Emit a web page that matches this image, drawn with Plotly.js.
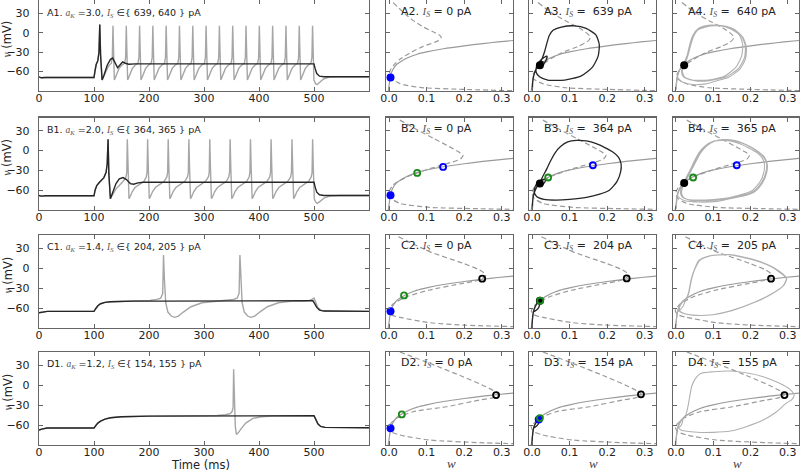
<!DOCTYPE html>
<html><head><meta charset="utf-8">
<script src="https://cdn.plot.ly/plotly-3.0.1.min.js"></script>
<style>body{margin:0;background:#fff}#chart{width:800px;height:471px}</style>
</head><body><div id="chart"></div>
<script>
// ================= DATA =================
const rowLetters = ['A','B','C','D'];
const aK = ['3.0','2.0','1.4','1.2'];
const IsPairs = [[639,640],[364,365],[204,205],[154,155]];

const tTicks = [0,100,200,300,400,500];
const vTicks = [30,0,-30,-60];
const wTicks = [0,0.1,0.2,0.3];
const wTickText = ['0.0','0.1','0.2','0.3'];

// ---- Time traces (t in ms, v in mV) ----
const A1_t = [0,4,12,100,102,104,107,109,110.5,112,114.7,118,124,130,134,138,143,148,152,157,163,175,500,502,505,510,518,600];
const A1_v = [-68,-69.5,-69,-69,-58,-49,-43,-30,13,-35,-73,-66,-50,-41,-39,-45,-54,-49,-45,-47,-48.5,-48,-48,-55,-63,-67,-68,-68];
const A1g_pre_t = [0,4,12,100,102,104,107,109,110.5,112,114.7,118,122,126,130];
const A1g_pre_v = [-68,-69.5,-69,-69,-58,-49,-43,-30,13,-35,-73,-66,-58,-52,-48];
const A1g_spikes = [134.5,158.7,182.9,207,231.2,255.4,279.6,303.8,328,352.2,376.4,400.6,424.8,449,473.2,497.4];
const A_spk_dt = [-3,-1.2,0,1,2.5,4,7,11,16,20];
const A_spk_dv = [-47,-38,11,-25,-73,-70,-62,-55,-50,-47];
const A1g_post_t = [503,506,511,518,528,540,600];
const A1g_post_v = [-79,-80,-76,-71,-68.5,-68,-68];

const B1_t = [0,4,12,100,102,105,110,114,118,122,124,125.6,127,129.8,134,140,146,152.8,159,166,172,180,190,500,502,505,510,518,600];
const B1_v = [-68,-69,-68.5,-68.5,-60,-53,-48,-45,-41,-33,-20,17,-35,-73,-62,-50,-43,-41,-44,-50,-51,-49,-48,-48,-55,-63,-67,-68,-68];
const B1g_pre_t = [0,4,12,100,102,105,110,114,118,122,124,125.6,127,129.8,134,140,146,151];
const B1g_pre_v = [-68,-69,-68.5,-68.5,-60,-53,-48,-45,-41,-33,-20,17,-35,-73,-66,-58,-53,-49];
const B1g_spikes = [160.6,197.5,234.9,272.5,310.5,347.5,384.5,422,460,497.5];
const B_spk_dt = [-6,-2.5,-1,0,1.2,3,5,9,14,20,26,30];
const B_spk_dv = [-45,-40,-33,17,-25,-73,-70,-62,-56,-52,-49,-47];
const B1g_post_t = [503,506,511,518,528,545,600];
const B1g_post_v = [-78,-80,-77,-72,-69,-68,-68];

const C1_t = [0,5,15,30,100,103,107,112,120,130,145,170,220,498,501,505,510,518,600];
const C1_v = [-67,-66,-65,-65,-65,-61,-56.5,-53.5,-51.5,-50.5,-50,-49.5,-49.5,-49,-53,-59,-63,-64.5,-65];
const C1g_pre_t = [0,5,15,30,100,103,107,112,120,130,145,170];
const C1g_pre_v = [-67,-66,-65,-65,-65,-61,-56.5,-53.5,-51.5,-50.5,-50,-49.5];
const C1g_spikes = [226.4,365.3];
const C_spk_dt = [-40,-25,-12,-5,-1.5,0,1.5,4,8,14,20,27,36,50,70,95];
const C_spk_dv = [-49.5,-48.5,-47,-45,-38,20,-15,-52,-66,-72,-74,-72,-66,-58,-52,-49.5];
const C1g_post_t = [480,492,497,500,503,507,512,520,600];
const C1g_post_v = [-49.5,-48.5,-46.5,-45,-51,-59,-63,-64.5,-65];

const D1_t = [0,5,15,100,103,107,112,120,130,150,200,300,500,503,507,512,520,600];
const D1_v = [-67.5,-66,-64.5,-64.5,-61,-57,-54,-51,-49,-47.5,-46.5,-46,-46,-51,-58,-62,-63.5,-64];
const D1g_pre_t = [0,5,15,100,103,107,112,120,130,150,200,300];
const D1g_pre_v = [-67.5,-66,-64.5,-64.5,-61,-57,-54,-51,-49,-47.5,-46.5,-46];
const D1g_spikes = [353.9];
const D_spk_dt = [-50,-30,-15,-7,-3,-1,0,1.2,3,5,8,14,22,35,50,70];
const D_spk_dv = [-46,-45.5,-44.5,-43,-40,-34,24,-20,-62,-74,-72,-65,-57,-50,-47.5,-46.5];
const D1g_post_t = [460,500,503,507,512,520,600];
const D1g_post_v = [-46,-46,-51,-58,-62,-63.5,-64];

// ---- Phase planes (w, v) ----
const wNull_w = [-0.002,0.001,0.004,0.01,0.02,0.035,0.05,0.075,0.1,0.145,0.2,0.25,0.29,0.335];
const wNull_v = [-90,-78,-66,-57,-49,-43,-38.5,-33,-29.5,-24.5,-20,-16.5,-14,-11.5];

const vNullA2_w = [0.011,0.038,0.064,0.091,0.117,0.132,0.139,0.136,0.126,0.091,0.056,0.029,0.011,0.002,0.004,0.029,0.082,0.197,0.335];
const vNullA2_v = [47,32,19.4,9.3,1.8,-2.5,-6.5,-10,-13.5,-20.8,-30.9,-40.8,-50.9,-60,-68,-78.5,-84.5,-87.5,-89.6];
const vNullA34_w = [0.016,0.05,0.095,0.125,0.145,0.155,0.152,0.14,0.122,0.078,0.042,0.015,0.003,0.004,0.03,0.09,0.2,0.335];
const vNullA34_v = [47,32,17,8,0,-6,-11,-16,-21,-31,-43,-54,-64,-71,-79,-85,-87.5,-89.5];
const vNullB_w = [0.029,0.07,0.12,0.16,0.185,0.197,0.19,0.153,0.1,0.047,0.011,0.0,0.005,0.029,0.108,0.236,0.335];
const vNullB_v = [46,33,18,6,-2,-7,-13,-20,-29,-40,-52,-63,-72,-80,-86,-88,-89];
const vNullC_w = [0.025,0.108,0.197,0.241,0.258,0.252,0.235,0.197,0.108,0.047,0.011,-0.002,0.005,0.029,0.108,0.197,0.335];
const vNullC_v = [47.4,24.9,7.4,-2.7,-10,-14,-18.5,-22.7,-32.8,-42.9,-53.9,-64,-70,-74,-82,-85.6,-88];
const vNullD_w = [0.029,0.108,0.197,0.258,0.289,0.29,0.275,0.241,0.153,0.064,0.020,-0.002,0.005,0.029,0.108,0.241,0.335];
const vNullD_v = [50,33,12.8,-2.3,-12,-15,-19,-22.3,-32.4,-39.9,-49.9,-62.5,-70,-75,-82.5,-86.5,-88];

const trajA3_w = [0.001,0.002,0.004,0.008,0.013,0.020,0.028,0.034,0.040,0.046,0.056,0.078,0.113,0.144,0.170,0.179,0.176,0.161,0.130,0.087,0.042,0.020,0.011,0.012,0.020,0.032,0.040,0.036,0.025,0.016,0.018,0.026,0.030,0.025,0.021];
const trajA3_v = [-88,-75,-68,-60,-54,-48,-38,-28,-15,-4,4,9,11,7,-3,-18,-36,-53,-67,-73,-73,-68,-61,-52,-44,-38,-36,-44,-53,-55,-50,-44,-45,-50,-49];
const trajA4_w = [0.001,0.002,0.004,0.008,0.013,0.020, 0.028,0.034,0.040,0.046,0.056,0.078,0.113,0.144,0.170,0.179,0.176,0.161,0.130,0.087,0.042,0.020, 0.015,0.018,0.024, 0.030,0.036,0.045,0.060,0.085,0.12,0.152,0.176,0.186,0.184,0.168,0.135,0.09,0.05,0.024, 0.017,0.020,0.026, 0.032,0.039,0.049,0.065,0.092,0.127,0.158,0.180,0.189,0.186,0.170,0.14,0.11, 0.08,0.045,0.02,0.008,0.004];
const trajA4_v = [-88,-75,-68,-60,-54,-48, -38,-28,-15,-4,4,9,11,7,-3,-18,-36,-53,-67,-73,-73,-68, -60,-52,-45, -35,-20,-4,7,11,11,6,-5,-20,-38,-55,-68,-74,-74,-69, -60,-52,-45, -35,-20,-3,8,12,11,5,-7,-23,-41,-57,-69,-74, -79,-80,-77,-72,-68];

const trajB3_w = [0.001,0.002,0.004,0.008,0.013,0.019,0.028,0.040,0.050,0.062,0.076,0.095,0.118,0.145,0.171,0.195,0.215,0.230,0.237,0.236,0.226,0.206,0.180,0.145,0.100,0.065,0.032,0.013,0.006,0.008,0.016,0.028,0.036,0.034,0.026,0.020,0.021];
const trajB3_v = [-88,-76,-68,-61,-55,-50,-40,-27,-15,-3,6,13,15.4,14.5,10.3,4,-2.3,-10,-20,-32,-47,-60,-66,-71,-74,-75,-74,-70,-63,-55,-48,-44,-43,-48,-52,-50,-49];
const trajB4_w = [0.001,0.002,0.004,0.008,0.013,0.019,
 0.028,0.040,0.050,0.062,0.076,0.095,0.118,0.145,0.171,0.195,0.215,0.230,0.237,0.236,0.226,0.206,0.180,0.145,0.100,0.065,0.032,0.016,
 0.012,0.014,0.020,
 0.030,0.042,0.053,0.065,0.080,0.100,0.125,0.152,0.178,0.200,0.220,0.235,0.243,0.241,0.230,0.210,0.185,0.150,0.105,0.070,0.038,0.020,
 0.015,0.017,0.022,
 0.032,0.044,0.055,0.067,0.083,0.103,0.128,0.155,0.180,0.202,0.222,0.237,0.245,0.243,0.232,0.212,0.187,0.152,
 0.11,0.06,0.025,0.01,0.004];
const trajB4_v = [-88,-76,-68,-61,-55,-50,
 -40,-27,-15,-3,6,13,15.4,14.5,10.3,4,-2.3,-10,-20,-32,-47,-60,-66,-71,-74,-75,-74,-70,
 -64,-57,-50,
 -40,-27,-15,-3,7,14,16,15,11,5,-2,-10,-20,-33,-48,-61,-67,-72,-75,-76,-75,-71,
 -64,-57,-50,
 -40,-27,-15,-3,7,14,16.5,15.5,11,5,-2,-10,-21,-34,-49,-62,-68,-72,
 -77,-78,-76,-72,-68];

const trajC3_w = [0.0,0.001,0.003,0.006,0.011,0.017,0.021,0.021,0.018,0.012,0.005];
const trajC3_v = [-90,-78,-68,-61,-55,-51,-49,-53,-59,-63,-65.5];
const trajC4_w = [0.0,0.001,0.003,0.006,0.011,0.017,0.021,0.026,
 0.030,0.034,0.041,0.050,0.062,0.089,0.142,0.212,0.257,0.283,0.296,0.288,0.257,0.212,0.151,0.098,0.054,0.023,0.010,0.009,0.014,0.020,0.026,
 0.031,0.035,0.042,0.051,0.064,0.091,0.145,0.215,0.259,0.285,0.297,0.289,0.258,0.213,0.152,0.099,0.055,0.024,0.011,0.010,0.015,0.021,0.027,
 0.028,0.024,0.02,0.014,0.008,0.004];
const trajC4_v = [-90,-78,-68,-61,-55,-51,-49,-46.5,
 -43,-36,-16,-1,12,18.4,20.3,11.8,1.8,-8.3,-15.8,-26,-38.4,-50.9,-63.4,-70,-71,-68.5,-64.9,-58,-52,-49,-46.5,
 -43,-36,-16,-1,12,18.6,20.5,12,2,-8,-15.8,-26,-38.5,-51,-63.5,-70,-71,-68.5,-65,-58,-52,-49,-46,
 -44.5,-50,-56,-61,-64,-65.5];

const trajD3_w = [0.0,0.001,0.003,0.006,0.011,0.016,0.019,0.019,0.016,0.010,0.005];
const trajD3_v = [-90,-78,-68,-61,-56,-52,-50,-54,-59,-62.5,-64];
const trajD4_w = [0.0,0.001,0.003,0.006,0.011,0.016,0.019,0.023,
 0.027,0.031,0.036,0.042,0.052,0.066,0.101,0.146,0.195,0.234,0.278,0.305,0.317,0.310,0.295,0.270,0.234,0.190,0.146,0.100,0.057,0.025,0.013,0.006,0.008,0.013,0.018,
 0.018,0.015,0.010,0.005];
const trajD4_v = [-90,-78,-68,-61,-56,-52,-50,-47.5,
 -44,-35,-20,-2,10,17.8,20.3,21.4,18,12.9,2.9,-6,-14.8,-22,-27.3,-40,-52.4,-62,-69,-71,-70.9,-69,-67.5,-62.5,-57,-53,-50,
 -54,-59,-62.5,-64];

// Fixed points
const fpPanel = ['A2','A3','A4','B2','B2','B2','B3','B3','B3','B4','B4','B4','C2','C2','C2','C3','C3','C3','C4','D2','D2','D2','D3','D3','D3','D4'];
const fpW = [0.004,0.021,0.022, 0.004,0.075,0.144, 0.021,0.043,0.162, 0.022,0.046,0.163, 0.004,0.040,0.248, 0.021,0.022,0.252, 0.255, 0.004,0.034,0.285, 0.018,0.021,0.290, 0.291];
const fpV = [-69,-50,-50, -67.5,-33.9,-24.8, -50,-40.8,-22.3, -49,-40.8,-22.3, -64.9,-40.9,-15.8, -49,-49,-15.3, -15.8, -64.9,-43.9,-14.8, -51.5,-49.5,-13.7, -14.8];
const fpType = ['stableBlue','stableBlack','stableBlack', 'stableBlue','saddle','unstable', 'stableBlack','saddle','unstable', 'stableBlack','saddle','unstable', 'stableBlue','saddle','sn', 'stableBlack','saddle','sn', 'sn', 'stableBlue','saddle','sn', 'stableBlue','saddle','sn', 'sn'];

// ================= BUILD =================
const W = 800, H = 471;
const colX = [[39,369],[386,513],[529,656],[673,799]];
const rowY = [[0,91],[117.5,210],[235,328],[352,445]];
const GRAY = '#a6a6a6', BLACK = '#262626', NULLC = '#9a9a9a', FRAME = '#666';

function train(preT, preV, spikes, dt, dv, postT, postV, cutoff) {
  const t = preT.slice(), v = preV.slice();
  spikes.forEach(s => dt.forEach((d, i) => {
    const tt = s + d;
    if (tt < cutoff && tt > t[t.length - 1]) { t.push(tt); v.push(dv[i]); }
  }));
  postT.forEach((tt, i) => { if (tt > t[t.length - 1]) { t.push(tt); v.push(postV[i]); } });
  return {t, v};
}

const layout = {
  width: W, height: H, margin: {l:0, r:0, t:0, b:0},
  paper_bgcolor: '#fff', plot_bgcolor: '#fff', showlegend: false,
  font: {family: 'DejaVu Sans', size: 11, color: '#222'},
  annotations: []
};
const common = {showline:true, mirror:'ticks', linecolor:FRAME, linewidth:1.2, ticks:'inside', ticklen:4,
  tickwidth:1, tickcolor:FRAME, showgrid:false, zeroline:false, fixedrange:true,
  tickfont:{family:'DejaVu Sans', size:11, color:'#222'}};

function ax(k) { return k === 1 ? '' : String(k); }
for (let r = 0; r < 4; r++) for (let c = 0; c < 4; c++) {
  const k = r*4 + c + 1, s = ax(k);
  layout['xaxis'+s] = Object.assign({}, common, {
    domain: [colX[c][0]/W, colX[c][1]/W], anchor: 'y'+s,
    range: c === 0 ? [0,600] : [-0.008,0.33],
    tickvals: c === 0 ? tTicks : wTicks,
    ticktext: c === 0 ? tTicks.map(String) : wTickText,
    ticklabelstandoff: -3
  });
  layout['yaxis'+s] = Object.assign({}, common, {
    domain: [1 - rowY[r][1]/H, 1 - rowY[r][0]/H], anchor: 'x'+s,
    range: r === 0 ? [-90,51] : [-90,50],
    tickvals: vTicks, ticktext: vTicks.map(v => v < 0 ? '\u2212' + (-v) : String(v)),
    showticklabels: c === 0, ticklabelstandoff: 6
  });
}

const data = [];
function line(k, x, y, color, width, dash, shape) {
  data.push({type:'scatter', mode:'lines', x, y, xaxis:'x'+ax(k), yaxis:'y'+ax(k),
    line:{color, width, dash: dash || 'solid', shape: shape || 'linear', smoothing: 0.6}, hoverinfo:'skip'});
}

const trainsGray = [
  train(A1g_pre_t, A1g_pre_v, A1g_spikes, A_spk_dt, A_spk_dv, A1g_post_t, A1g_post_v, 500.5),
  train(B1g_pre_t, B1g_pre_v, B1g_spikes, B_spk_dt, B_spk_dv, B1g_post_t, B1g_post_v, 501),
  train(C1g_pre_t, C1g_pre_v, C1g_spikes, C_spk_dt, C_spk_dv, C1g_post_t, C1g_post_v, 470),
  train(D1g_pre_t, D1g_pre_v, D1g_spikes, D_spk_dt, D_spk_dv, D1g_post_t, D1g_post_v, 430)
];
const blackT = [[A1_t,A1_v],[B1_t,B1_v],[C1_t,C1_v],[D1_t,D1_v]];
for (let r = 0; r < 4; r++) {
  const k = r*4 + 1;
  line(k, trainsGray[r].t, trainsGray[r].v, GRAY, 1.4);
  line(k, blackT[r][0], blackT[r][1], BLACK, 1.4);
}

const vNulls = [[[vNullA2_w,vNullA2_v],[vNullA34_w,vNullA34_v],[vNullA34_w,vNullA34_v]],
  [[vNullB_w,vNullB_v],[vNullB_w,vNullB_v],[vNullB_w,vNullB_v]],
  [[vNullC_w,vNullC_v],[vNullC_w,vNullC_v],[vNullC_w,vNullC_v]],
  [[vNullD_w,vNullD_v],[vNullD_w,vNullD_v],[vNullD_w,vNullD_v]]];
const trajs = [[[trajA3_w,trajA3_v],[trajA4_w,trajA4_v]],[[trajB3_w,trajB3_v],[trajB4_w,trajB4_v]],
  [[trajC3_w,trajC3_v],[trajC4_w,trajC4_v]],[[trajD3_w,trajD3_v],[trajD4_w,trajD4_v]]];
for (let r = 0; r < 4; r++) for (let c = 1; c < 4; c++) {
  const k = r*4 + c + 1;
  line(k, vNulls[r][c-1][0], vNulls[r][c-1][1], NULLC, 1.2, '5px,3px', 'spline');
  line(k, wNull_w, wNull_v, NULLC, 1.2, 'solid', 'spline');
  if (c === 2) line(k, trajs[r][0][0], trajs[r][0][1], BLACK, 1.3, 'solid', 'spline');
  if (c === 3) line(k, trajs[r][1][0], trajs[r][1][1], '#b0b0b0', 1.1, 'solid', 'spline');
}
const fpStyle = {
  stableBlue: {symbol:'circle', size:8, color:'#0000ff', line:{width:0}},
  stableBlack: {symbol:'circle', size:8, color:'#000', line:{width:0}},
  saddle: {symbol:'circle-open', size:6, color:'#1a8a1a', line:{width:1.8, color:'#1a8a1a'}},
  unstable: {symbol:'circle-open', size:6, color:'#0000ff', line:{width:1.8, color:'#0000ff'}},
  sn: {symbol:'circle-open', size:6, color:'#000', line:{width:1.8, color:'#000'}}
};
fpPanel.forEach((p, i) => {
  const r = rowLetters.indexOf(p[0]), c = parseInt(p[1]) - 1;
  const k = r*4 + c + 1;
  data.push({type:'scatter', mode:'markers', x:[fpW[i]], y:[fpV[i]], xaxis:'x'+ax(k), yaxis:'y'+ax(k),
    marker: fpStyle[fpType[i]], hoverinfo:'skip', cliponaxis:false});
});

const MATH = "font-family:'Liberation Serif','DejaVu Serif',serif;font-style:italic;color:#555";
const mi = (s, sub) => `<span style="${MATH}">${s}<sub>${sub}</sub></span>`;
for (let r = 0; r < 4; r++) {
  const L = rowLetters[r], top = rowY[r][0] + (r === 0 ? 1 : 0);
  layout.annotations.push({xref:'paper', yref:'paper', x:45/W, y:1-(top+12)/H, xanchor:'left', yanchor:'middle',
    showarrow:false, font:{family:'DejaVu Sans', size:9.5, color:'#222'},
    text:`${L}1. ${mi('a','K')} =${aK[r]}, ${mi('I','S')} \u2208{ ${IsPairs[r][0]}, ${IsPairs[r][1]} } pA`});
  const pa = ['0', '\u00a0' + IsPairs[r][0], '\u00a0' + IsPairs[r][1]];
  for (let c = 1; c < 4; c++) {
    layout.annotations.push({xref:'paper', yref:'paper', x:(colX[c][0]+13)/W, y:1-(top+11)/H, xanchor:'left', yanchor:'middle',
      showarrow:false, font:{family:'DejaVu Sans', size:11, color:'#222'},
      text:`${L}${c+1}. ${mi('I','S')} = ${pa[c-1]} pA`});
  }
  const rc = (rowY[r][0] + rowY[r][1]) / 2 - 6;
  layout.annotations.push({xref:'paper', yref:'paper', x:7/W, y:1-rc/H, xanchor:'center', yanchor:'middle', textangle:-90,
    showarrow:false, font:{family:'DejaVu Sans', size:11.5, color:'#222'},
    text:`<span style="font-family:'Liberation Serif',serif;font-style:italic;color:#444">v</span>\u00a0(mV)`});
}
layout.annotations.push({xref:'paper', yref:'paper', x:200/W, y:1-465/H, xanchor:'center', yanchor:'middle',
  showarrow:false, font:{family:'DejaVu Sans', size:11.5, color:'#222'}, text:'Time (ms)'});
[452, 593, 737].forEach(px => layout.annotations.push({xref:'paper', yref:'paper', x:px/W, y:1-463/H,
  xanchor:'center', yanchor:'middle', showarrow:false,
  font:{family:"'Liberation Serif',serif", size:13, color:'#444'}, text:'<i>w</i>'}));

Plotly.newPlot('chart', data, layout, {staticPlot:true, displayModeBar:false});
</script></body></html>
